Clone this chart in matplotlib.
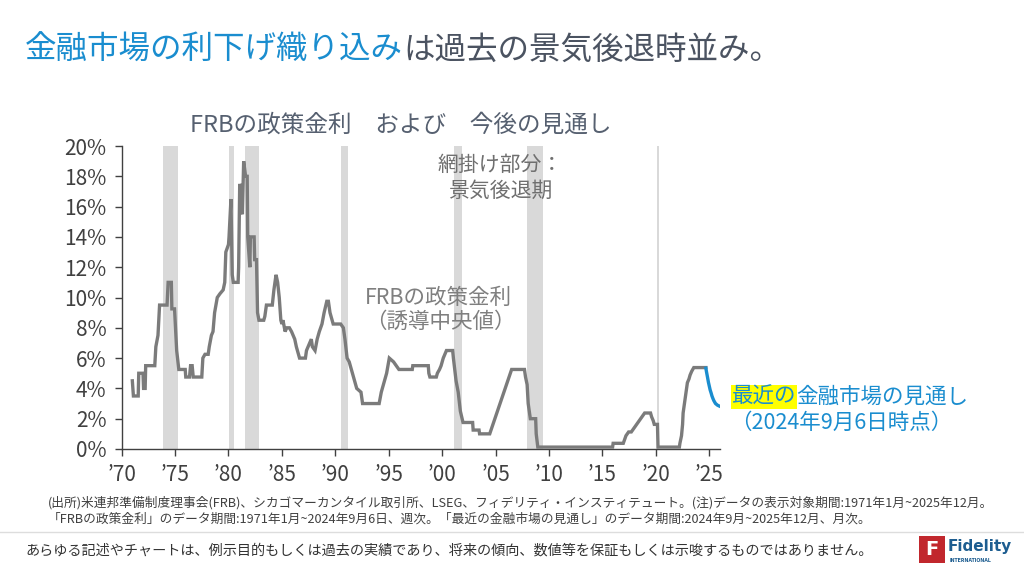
import matplotlib
matplotlib.use("Agg")
import matplotlib.pyplot as plt
from matplotlib.patches import Rectangle
from matplotlib.lines import Line2D

plt.rcParams['font.family'] = ['Noto Sans CJK JP', 'DejaVu Sans']

# FRB policy rate (target midpoint)
frb_year = [1971.0, 1971.1, 1971.55, 1971.6, 1972.0, 1972.05, 1972.2, 1972.25, 1973.1, 1973.2,
            1973.4, 1973.55, 1974.25, 1974.35, 1974.65, 1974.7, 1974.95, 1975.15, 1975.35, 1975.95,
            1976.0, 1976.35, 1976.45, 1976.6, 1976.7, 1977.5, 1977.6, 1977.8, 1978.1, 1978.2,
            1978.4, 1978.55, 1978.7, 1978.95, 1979.2, 1979.5, 1979.65, 1979.75, 1980.0, 1980.05,
            1980.23, 1980.35, 1980.45, 1980.9, 1980.95, 1981.0, 1981.05, 1981.15, 1981.25, 1981.3,
            1981.42, 1981.6, 1981.75, 1981.8, 1982.0, 1982.05, 1982.4, 1982.45, 1982.62, 1982.72,
            1982.85, 1983.3, 1983.4, 1983.55, 1984.1, 1984.25, 1984.45, 1984.6, 1984.75, 1984.9,
            1985.0, 1985.1, 1985.3, 1985.45, 1985.7, 1985.9, 1986.2, 1986.35, 1986.65, 1987.2,
            1987.3, 1987.6, 1987.75, 1987.85, 1988.1, 1988.3, 1988.5, 1988.75, 1988.95, 1989.2,
            1989.35, 1989.5, 1989.8, 1990.5, 1990.75, 1990.9, 1991.1, 1991.3, 1991.5, 1991.8,
            1992.0, 1992.4, 1992.55, 1994.1, 1994.3, 1994.5, 1994.8, 1995.05, 1995.45, 1995.95,
            1997.2, 1997.25, 1998.7, 1998.75, 1998.85, 1999.45, 1999.55, 1999.75, 1999.9, 2000.1,
            2000.4, 2000.98, 2001.05, 2001.3, 2001.5, 2001.7, 2001.95, 2002.85, 2002.9, 2003.45,
            2003.5, 2004.45, 2006.5, 2007.7, 2007.8, 2007.95, 2008.05, 2008.25, 2008.75, 2008.8,
            2008.95, 2015.95, 2016.0, 2016.95, 2017.2, 2017.45, 2017.7, 2017.95, 2018.2, 2018.45,
            2018.7, 2018.95, 2019.5, 2019.6, 2019.75, 2019.85, 2020.15, 2020.2, 2022.2, 2022.25,
            2022.4, 2022.5, 2022.55, 2022.7, 2022.85, 2022.95, 2023.1, 2023.2, 2023.35, 2023.55,
            2024.68]
frb_rate = [4.5, 3.5, 3.5, 5.0, 5.0, 4.0, 4.0, 5.5, 5.5, 6.75,
            7.5, 9.5, 9.5, 11.0, 11.0, 9.25, 9.25, 6.5, 5.25, 5.25,
            4.75, 4.75, 5.5, 5.5, 4.75, 4.75, 6.0, 6.25, 6.25, 6.75,
            7.5, 7.75, 9.0, 10.0, 10.25, 10.5, 11.0, 13.0, 13.5, 14.0,
            16.5, 11.5, 11.0, 11.0, 12.0, 15.0, 17.5, 15.5, 17.5, 15.5,
            19.0, 18.0, 18.0, 14.0, 12.0, 14.0, 14.0, 12.5, 12.5, 9.0,
            8.5, 8.5, 8.75, 9.5, 9.5, 10.5, 11.5, 11.0, 10.0, 8.5,
            8.25, 8.5, 7.75, 8.0, 8.0, 7.75, 7.25, 6.75, 6.0, 6.0,
            6.5, 7.0, 7.25, 6.75, 6.5, 7.25, 7.75, 8.25, 9.0, 9.75,
            9.75, 9.0, 8.25, 8.25, 8.0, 7.25, 6.0, 5.75, 5.25, 4.5,
            4.0, 3.75, 3.0, 3.0, 3.75, 4.25, 5.0, 6.0, 5.75, 5.25,
            5.25, 5.5, 5.5, 5.0, 4.75, 4.75, 5.0, 5.25, 5.5, 6.0,
            6.5, 6.5, 6.0, 4.5, 3.75, 2.5, 1.75, 1.75, 1.25, 1.25,
            1.0, 1.0, 5.25, 5.25, 4.75, 4.25, 3.0, 2.0, 2.0, 1.0,
            0.125, 0.125, 0.375, 0.375, 0.875, 1.125, 1.125, 1.375, 1.625, 1.875,
            2.125, 2.375, 2.375, 2.125, 1.875, 1.625, 1.625, 0.125, 0.125, 0.375,
            0.875, 1.625, 2.375, 3.125, 3.875, 4.375, 4.625, 4.875, 5.125, 5.375,
            5.375]

# market-implied path, monthly Sep 2024 - Dec 2025
mkt_year = [2024.68, 2024.75, 2024.83, 2024.92, 2025.0, 2025.08, 2025.17, 2025.25,
            2025.33, 2025.42, 2025.5, 2025.58, 2025.67, 2025.75, 2025.83, 2025.92]
mkt_rate = [5.33, 5.05, 4.75, 4.4, 4.15, 3.9, 3.7, 3.5,
            3.35, 3.2, 3.1, 3.0, 2.95, 2.9, 2.87, 2.84]

# recessions (start, end)
rec_start = [1973.9, 1980.05, 1981.55, 1990.53, 2001.14, 2007.96, 2020.1]
rec_end = [1975.25, 1980.55, 1982.9, 1991.23, 2001.88, 2009.42, 2020.33]

x_ticks = [1970, 1975, 1980, 1985, 1990, 1995, 2000, 2005, 2010, 2015, 2020, 2025]
x_labels = ['’70', '’75', '’80', '’85', '’90', '’95', '’00', '’05', '’10', '’15', '’20', '’25']
y_ticks = [0, 2, 4, 6, 8, 10, 12, 14, 16, 18, 20]

BLUE = '#1a8dcf'
GRAY_LINE = '#7b7b7b'
DARK = '#404040'

fig = plt.figure(figsize=(10.24, 5.76), dpi=100)
ax = fig.add_axes([0.1188, 0.2205, 0.5843, 0.526])

for s, e in zip(rec_start, rec_end):
    ax.axvspan(s, e, color='#d9d9d9', lw=0, zorder=0)

ax.plot(frb_year, frb_rate, color=GRAY_LINE, lw=2.4, solid_joinstyle='miter', zorder=3)
ax.plot(mkt_year, mkt_rate, color=BLUE, lw=2.4, zorder=3)

ax.set_xlim(1970, 2026)
ax.set_ylim(0, 20)
ax.set_xticks(x_ticks)
ax.set_xticklabels(x_labels)
ax.set_yticks(y_ticks)
ax.set_yticklabels([f'{v}%' for v in y_ticks])
for sp in ['top', 'right']:
    ax.spines[sp].set_visible(False)
for sp in ['left', 'bottom']:
    ax.spines[sp].set_color(DARK)
    ax.spines[sp].set_linewidth(1.0)
ax.tick_params(axis='both', direction='out', length=5, width=1, color=DARK,
               labelcolor=DARK, labelsize=15, pad=6)

ax.text(2005.4, 17.9, '網掛け部分：\n景気後退期', ha='center', va='center',
        fontsize=15, color='#6f6f6f', linespacing=1.2)
ax.text(1992.8, 9.17, 'FRBの政策金利\n（誘導中央値）', ha='left', va='center',
        fontsize=15.5, color='#7f7f7f', linespacing=1.15)

t1 = ax.text(2027.1, 3.43, '最近の', ha='left', va='center', fontsize=15.5, color=BLUE,
             clip_on=False, bbox=dict(facecolor='#ffff00', edgecolor='none', pad=0.6))
ax.annotate('金融市場の見通し', xy=(1, 0.5), xycoords=t1, ha='left', va='center',
            fontsize=15.5, color=BLUE, annotation_clip=False)
ax.text(2026.9, 1.72, '（2024年9月6日時点）', ha='left', va='center', fontsize=15.5,
        color=BLUE, clip_on=False)

# headings
h1 = fig.text(25 / 1024, 1 - 50 / 576, '金融市場の利下げ織り込み', ha='left', va='center',
              fontsize=22.7, color=BLUE)
ax.annotate('は過去の景気後退時並み。', xy=(1, 0.5), xycoords=h1, ha='left', va='center',
            fontsize=22.7, color='#4b5361', annotation_clip=False)
fig.text(401 / 1024, 1 - 125 / 576, 'FRBの政策金利　および　今後の見通し', ha='center',
         va='center', fontsize=17, color='#566070')

# notes
fig.text(48 / 1024, 1 - 503 / 576,
         '(出所)米連邦準備制度理事会(FRB)、シカゴマーカンタイル取引所、LSEG、フィデリティ・インスティテュート。(注)データの表示対象期間:1971年1月~2025年12月。',
         ha='left', va='center', fontsize=9.15, color=DARK)
fig.text(48 / 1024, 1 - 519 / 576,
         '「FRBの政策金利」のデータ期間:1971年1月~2024年9月6日、週次。「最近の金融市場の見通し」のデータ期間:2024年9月~2025年12月、月次。',
         ha='left', va='center', fontsize=9.15, color=DARK)
fig.add_artist(Line2D([0, 1], [1 - 532 / 576] * 2, color='#dddddd', lw=1))
fig.text(25 / 1024, 1 - 551 / 576,
         'あらゆる記述やチャートは、例示目的もしくは過去の実績であり、将来の傾向、数値等を保証もしくは示唆するものではありません。',
         ha='left', va='center', fontsize=10.2, color='#333333')

# logo
fig.add_artist(Rectangle((919 / 1024, 1 - 563 / 576), 26 / 1024, 27 / 576,
                         facecolor='#c1272d', edgecolor='none'))
fig.text(932 / 1024, 1 - 549.5 / 576, 'F', ha='center', va='center', fontsize=14,
         fontweight='bold', color='white', family='DejaVu Sans')
fig.text(948 / 1024, 1 - 546 / 576, 'Fidelity', ha='left', va='center', fontsize=11,
         fontweight='bold', color='#1d5d90', family='DejaVu Sans')
fig.text(950 / 1024, 1 - 560 / 576, 'INTERNATIONAL', ha='left', va='center', fontsize=3.4,
         fontweight='bold', color='#1d5d90', family='DejaVu Sans')

fig.savefig('out.png', dpi=100)
